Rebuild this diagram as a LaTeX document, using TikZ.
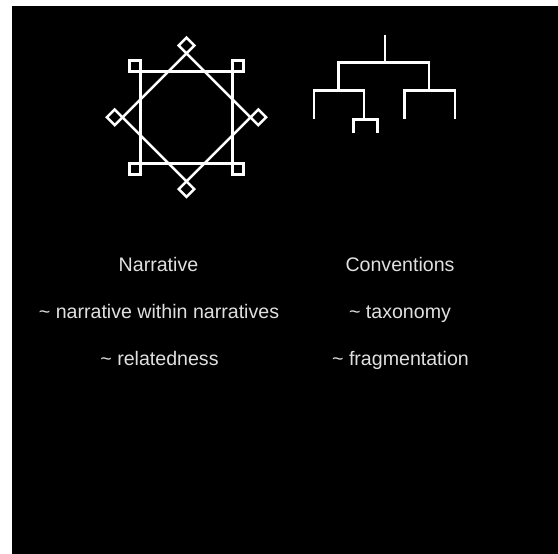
\documentclass[tikz,border=0pt]{standalone}
\usepackage{fontspec}
\setmainfont{Liberation Sans}
\begin{document}
\begin{tikzpicture}[x=1pt,y=-1pt,
  ln/.style={draw=white,line width=2.5pt},
  lbl/.style={text=white!88!black,font=\fontsize{19.6}{22}\selectfont,inner sep=0pt,anchor=base}]
\useasboundingbox (0,0) rectangle (558,554);
\fill[white] (0,0) rectangle (558,554);
\fill[black] (12,6) rectangle (558,554);
% octagram
\def\cx{186.5}\def\cy{117.3}
\begin{scope}[shift={(\cx,\cy)}]
  \draw[ln] (-46,-46) rectangle (46,46);
  \draw[ln] (0,-64) -- (64,0) -- (0,64) -- (-64,0) -- cycle;
  % corner squares
  \draw[ln] (-46,-46) rectangle (-57,-57);
  \draw[ln] (46,-46) rectangle (57,-57);
  \draw[ln] (-46,46) rectangle (-57,57);
  \draw[ln] (46,46) rectangle (57,57);
  % diamonds
  \draw[ln] (0,-64) -- (7.8,-71.8) -- (0,-79.6) -- (-7.8,-71.8) -- cycle;
  \draw[ln] (0,64) -- (7.8,71.8) -- (0,79.6) -- (-7.8,71.8) -- cycle;
  \draw[ln] (-64,0) -- (-71.8,7.8) -- (-79.6,0) -- (-71.8,-7.8) -- cycle;
  \draw[ln] (64,0) -- (71.8,7.8) -- (79.6,0) -- (71.8,-7.8) -- cycle;
\end{scope}
% tree
\draw[ln] (385,35) -- (385,62.3);
\draw[ln] (338.3,90.7) -- (338.3,62.3) -- (429,62.3) -- (429,90.7);
\draw[ln] (314,118.5) -- (314,90.7) -- (364,90.7) -- (364,119.3);
\draw[ln] (353.3,133.3) -- (353.3,119.3) -- (377.3,119.3) -- (377.3,133.3);
\draw[ln] (404.3,118.5) -- (404.3,90.7) -- (455,90.7) -- (455,118.5);
% labels
\node[lbl] (n1) at (158.5,271) {Narrative};
\node[lbl] (n2) at (159,318) {\char"7E{} narrative within narratives};
\node[lbl] (n3) at (159.5,365) {\char"7E{} relatedness};
\node[lbl] (c1) at (400,271) {Conventions};
\node[lbl] (c2) at (400,318) {\char"7E{} taxonomy};
\node[lbl] (c3) at (400.5,365) {\char"7E{} fragmentation};
\end{tikzpicture}
\end{document}
